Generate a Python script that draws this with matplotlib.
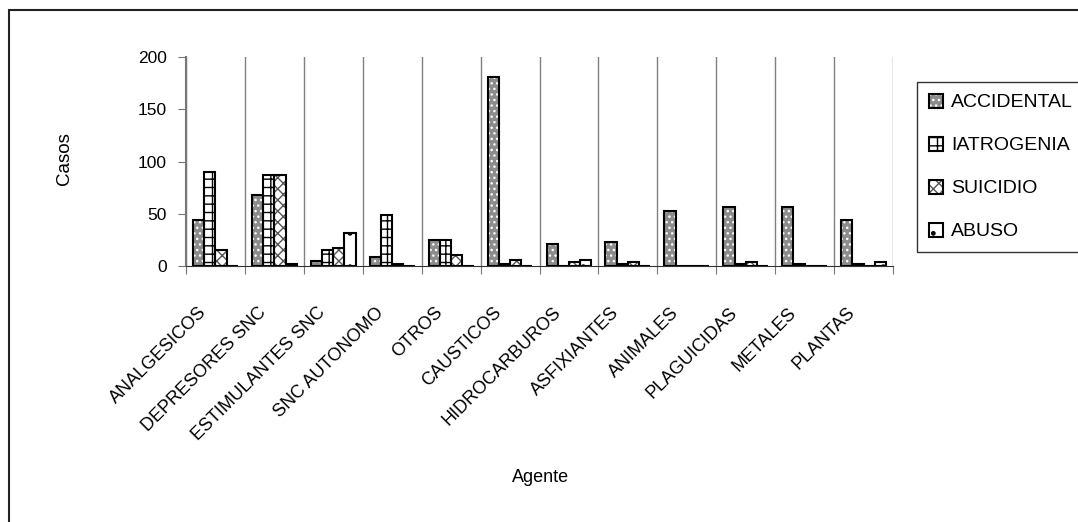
import matplotlib
matplotlib.use("Agg")
import matplotlib.pyplot as plt
import matplotlib.transforms as mtransforms
from matplotlib.patches import Patch, Rectangle
import numpy as np

plt.rcParams['font.family'] = ['Liberation Sans', 'DejaVu Sans']
plt.rcParams['hatch.linewidth'] = 1.0

agentes = ['ANALGESICOS', 'DEPRESORES SNC', 'ESTIMULANTES SNC', 'SNC AUTONOMO', 'OTROS',
           'CAUSTICOS', 'HIDROCARBUROS', 'ASFIXIANTES', 'ANIMALES', 'PLAGUICIDAS',
           'METALES', 'PLANTAS']
accidental = [44, 68, 5, 9, 25, 181, 21, 23, 53, 56, 56, 44]
iatrogenia = [90, 87, 15, 49, 25, 2, 0, 2, 0, 2, 2, 2]
suicidio = [15, 87, 17, 2, 11, 6, 4, 4, 0, 4, 0, 0]
abuso = [0, 2, 32, 0, 0, 0, 6, 0, 0, 0, 0, 4]
series_names = ['ACCIDENTAL', 'IATROGENIA', 'SUICIDIO', 'ABUSO']

# estilo de cada serie: relleno, color de la trama, trama
estilos = [('#8c8c8c', 'white', '...'),
           ('white', 'black', '++'),
           ('white', '#555555', 'xxx'),
           ('white', 'black', '.')]

fig = plt.figure(figsize=(10.78, 5.22), dpi=100)
ax = fig.add_axes([186/1078, 1-266/522, 707/1078, 209/522])

x = np.arange(len(agentes))
w = 0.19
handles = []
for i, (vals, (fc, hc, hatch)) in enumerate(zip([accidental, iatrogenia, suicidio, abuso], estilos)):
    pos = x + (i - 1.5) * w
    ax.bar(pos, vals, w, color=fc, edgecolor=hc, hatch=hatch, linewidth=0, zorder=3)
    ax.bar(pos, vals, w, fill=False, edgecolor='black', linewidth=1.5, zorder=4)
    handles.append((Patch(facecolor=fc, edgecolor=hc, hatch=hatch, linewidth=0),
                    Patch(fill=False, edgecolor='black', linewidth=1.5)))

ax.set_xlim(-0.5, len(agentes) - 0.5)
ax.set_ylim(0, 200)
ax.set_yticks([0, 50, 100, 150, 200])
ax.tick_params(axis='y', direction='out', length=6, color='#777777', pad=8, labelsize=12.5)

ax.set_xticks(np.arange(-0.5, len(agentes)))
ax.set_xticklabels([])
ax.tick_params(axis='x', direction='out', length=6, color='#777777')
ax.grid(axis='x', color='#808080', linewidth=1, zorder=0)
ax.spines['top'].set_visible(False)
ax.spines['right'].set_visible(False)
ax.spines['left'].set_color('#777777')
ax.spines['left'].set_linewidth(1.5)
ax.spines['bottom'].set_color('#333333')

# etiquetas del eje x a 45 grados
offset = mtransforms.ScaledTranslation(-0.11, -0.44, fig.dpi_scale_trans)
trans = mtransforms.blended_transform_factory(ax.transData, ax.transAxes) + offset
for xi, nombre in zip(x, agentes):
    ax.text(xi, 0, nombre, rotation=45, ha='right', va='center', rotation_mode='anchor',
            fontsize=13, transform=trans)

fig.text(541/1078, 1-477/522, 'Agente', ha='center', va='center', fontsize=13)
fig.text(64/1078, 1-159/522, 'Casos', ha='center', va='center', rotation=90, fontsize=13.5)

leg = fig.legend(handles, series_names, loc='upper left',
                 bbox_to_anchor=(917/1078, 1-82/522), bbox_transform=fig.transFigure,
                 borderaxespad=0, frameon=True, fancybox=False, fontsize=14,
                 handlelength=0.72, handleheight=0.72, handletextpad=0.45,
                 labelspacing=1.3, borderpad=0.6)
leg.get_frame().set_edgecolor('black')
leg.get_frame().set_linewidth(1)

# borde exterior del grafico
fig.add_artist(Rectangle((9/1078, -0.1), 1.2, 1.1 - 10/522, transform=fig.transFigure,
                         fill=False, edgecolor='#222222', linewidth=1.5, clip_on=False))

fig.savefig('out.png', dpi=100)
